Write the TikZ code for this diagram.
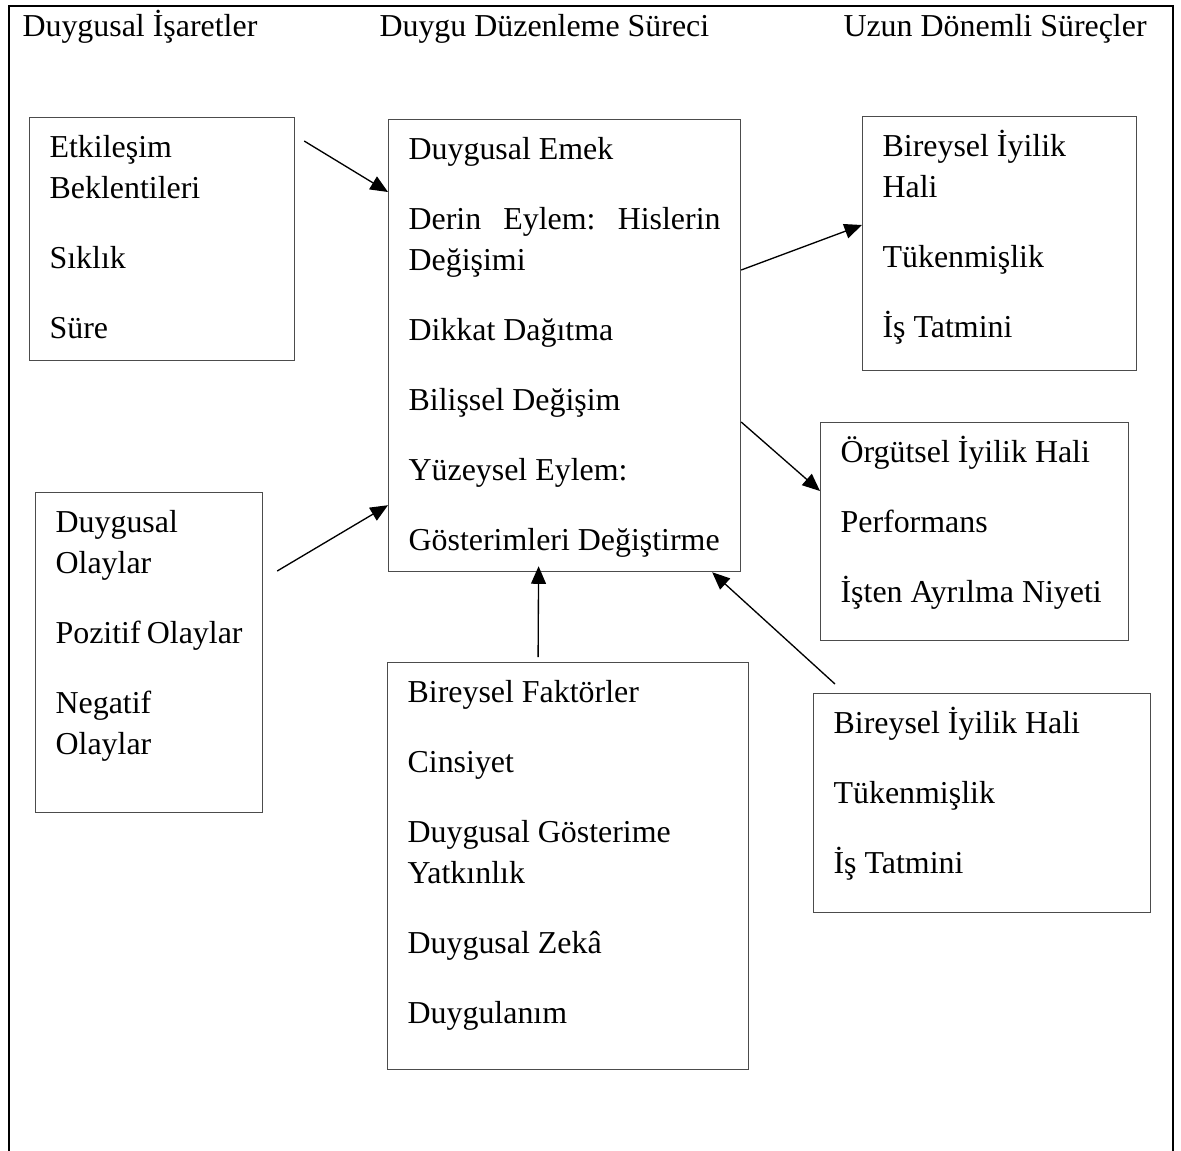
\documentclass[tikz,border=0pt]{standalone}
\usepackage{fontspec}
\setmainfont{Liberation Serif}
\usepackage{tikz}
\usetikzlibrary{arrows.meta}

\newlength{\px}
\setlength{\px}{0.376pt}
% box text: width, height (in px), content
\newcommand{\kutuyazi}[3]{\parbox[t][\dimexpr#2\px-22\px\relax][t]{\dimexpr#1\px-40\px\relax}{\strut#3}}
\newcommand{\ara}{\\[29\px]}

\begin{document}
\begin{tikzpicture}[
    x=0.376pt, y=-0.376pt,
    kutu/.style={
        draw=black!70, line width=0.45pt,
        anchor=north west,
        inner xsep=7.52pt, inner ysep=4.14pt,
        font=\fontsize{12}{15.42}\selectfont
    },
    baslik/.style={anchor=base west, inner sep=0pt, font=\fontsize{12}{14}\selectfont},
    ok/.style={-{Triangle[length=6.6pt,width=5.6pt]}, line width=0.5pt},
    cerceve/.style={line width=1.1pt}
]
    \useasboundingbox (0,0) rectangle (1181,1151);
    \draw[cerceve] (9,1151) -- (9,6) -- (1173,6) -- (1173,1151);

    \node[baslik] (isaretler) at (22,36) {Duygusal İşaretler};
    \node[baslik] (surec) at (379,36) {Duygu Düzenleme Süreci};
    \node[baslik] (uzun) at (843,36) {Uzun Dönemli Süreçler};

    \node[kutu] (etkilesim) at (29,117) {\kutuyazi{265}{243}{Etkileşim\\Beklentileri\ara Sıklık\ara Süre}};
    \node[kutu] (olaylar) at (35,492) {\kutuyazi{227}{320}{Duygusal\\Olaylar\ara Pozitif Olaylar\ara Negatif\\Olaylar}};
    \node[kutu] (emek) at (388,119) {\kutuyazi{352}{452}{Duygusal Emek\ara Derin\hfill Eylem:\hfill Hislerin\\Değişimi\ara Dikkat Dağıtma\ara Bilişsel Değişim\ara Yüzeysel Eylem:\ara Gösterimleri Değiştirme}};
    \node[kutu] (faktor) at (387,662) {\kutuyazi{361}{407}{Bireysel Faktörler\ara Cinsiyet\ara Duygusal Gösterime\\Yatkınlık\ara Duygusal Zekâ\ara Duygulanım}};
    \node[kutu] (bireysel) at (862,116) {\kutuyazi{274}{254}{Bireysel İyilik\\Hali\ara Tükenmişlik\ara İş Tatmini}};
    \node[kutu] (orgut) at (820,422) {\kutuyazi{308}{218}{Örgütsel İyilik Hali\ara Performans\ara İşten Ayrılma Niyeti}};
    \node[kutu] (bireyselb) at (813,693) {\kutuyazi{337}{219}{Bireysel İyilik Hali\ara Tükenmişlik\ara İş Tatmini}};

    \draw[ok] ([shift={(9,24)}]etkilesim.north east) -- ([shift={(0,73)}]emek.north west);
    \draw[ok] ([shift={(14,79)}]olaylar.north east) -- ([shift={(0,-67)}]emek.south west);
    \draw[ok] ([shift={(-30,-5)}]faktor.north) -- ([shift={(-26,-6)}]emek.south);
    \draw[ok] ([shift={(22,-9)}]bireyselb.north west) -- ([shift={(-29,0)}]emek.south east);
    \draw[ok] ([shift={(0,151)}]emek.north east) -- ([shift={(0,109)}]bireysel.north west);
    \draw[ok] ([shift={(0,303)}]emek.north east) -- ([shift={(0,69)}]orgut.north west);
\end{tikzpicture}
\end{document}
